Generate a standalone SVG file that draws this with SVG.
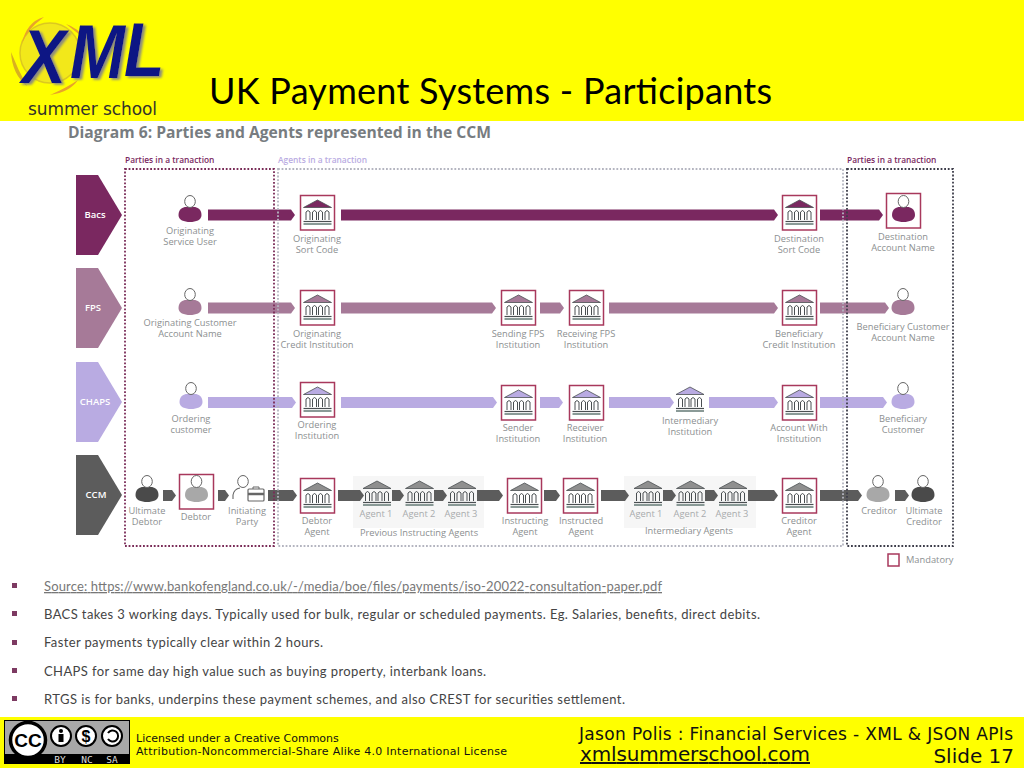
<svg xmlns="http://www.w3.org/2000/svg" width="1024" height="768" viewBox="0 0 1024 768">
<style>
text{font-family:"Open Sans","Liberation Sans",sans-serif}
.lbl{font-size:9.3px;fill:#8c8f91;text-anchor:middle;transform:translateY(-1px)}
.lbl2{font-size:9.3px;fill:#a8abad;text-anchor:middle;transform:translateY(-1px)}
.chev{font-size:9.5px;fill:#fff;font-weight:600;text-anchor:middle}
.sec{font-size:8.4px;font-weight:600}
.mand{fill:none;stroke:#a8385c;stroke-width:1.5}
.bacs{fill:#7a2860}.fps{fill:#a67a98}.chaps{fill:#b9abe2}.ccm{fill:#5c5c5c}
.body{font-family:Lato,"Liberation Sans",sans-serif;font-size:13px;fill:#444}
.foot{font-family:"DejaVu Sans",sans-serif;fill:#111}
.bul{fill:#7d3a62}
.ccl{font-family:"DejaVu Sans Mono",monospace;font-size:9.5px;fill:#ddd;text-anchor:middle}
.logoT{font-family:"Liberation Sans",sans-serif}
</style>
<defs>
<g id="bank">
<path d="M-14 -5.500 L0 -13 L14 -5.500 Z" stroke="#4a4f52" stroke-width=".8"/>
<path d="M-14 8.500 H14" stroke="#4a4f52" stroke-width="1.200" fill="none"/>
<path d="M-14 11 H14" stroke="#7d8f8c" stroke-width="1.800" fill="none"/>
<path d="M-11.500 7 V-1 Q-9.500 -4 -7.500 -1 V7 M-5 7 V-1 Q-3 -4 -1 -1 V7 M1 7 V-1 Q3 -4 5 -1 V7 M7.500 7 V-1 Q9.500 -4 11.500 -1 V7" stroke="#4a4f52" stroke-width="1" fill="none"/>
</g>
<g id="person">
<path d="M-11.500 0 C-11.500 -6 -7 -8 -4 -8 H4 C7 -8 11.500 -6 11.500 0 C11.500 5 6 7 0 7 C-6 7 -11.500 5 -11.500 0 Z"/>
<ellipse cx="0" cy="-13.500" rx="5.300" ry="6" fill="#fff" stroke="#666" stroke-width="1"/>
</g>
<filter id="logoShadow" x="-10%" y="-10%" width="125%" height="125%"><feDropShadow dx="2.500" dy="1.500" stdDeviation=".8" flood-color="#8a8a80"/></filter>
</defs>

<rect width="1024" height="768" fill="#fff"/>
<rect id="header" width="1024" height="121" fill="#ffff00"/>
<rect id="footer" y="717" width="1024" height="51" fill="#ffff00"/>

<g id="logo">
<circle cx="50" cy="53" r="30" fill="#f2e81a" stroke="#dcc820" stroke-width="1.500"/>
<path d="M44 17 Q26 22 22 44 Q26 30 44 17Z" fill="#e8a42a"/>
<path d="M66 24 Q78 28 84 38 Q76 32 66 24Z" fill="#e8a42a"/>
<path d="M11 52 Q12 74 27 86 Q18 70 11 52Z" fill="#d8b020"/>
<path d="M50 95 Q70 92 78 80 Q66 88 50 95Z" fill="#e8a42a"/>
<text class="logoT" transform="scale(1 1.150)" x="22 70 124" y="72 68 66" font-size="66" font-weight="700" font-style="italic" fill="#0e1684" filter="url(#logoShadow)">XML</text>
<text x="28" y="115" font-size="17" fill="#33332a" textLength="129" style="font-family:'DejaVu Sans',sans-serif">summer school</text>
</g>

<text id="title" x="209" y="104" font-size="36" fill="#000" textLength="563" style="font-family:Lato,'Liberation Sans',sans-serif">UK Payment Systems - Participants</text>
<text id="subtitle" x="68" y="138" font-size="15.500" font-weight="700" fill="#777c80" textLength="423" lengthAdjust="spacingAndGlyphs">Diagram 6: Parties and Agents represented in the CCM</text>

<text class="sec" x="125" y="163" fill="#7a2860">Parties in a tranaction</text>
<text class="sec" x="278" y="163" fill="#b9abe2">Agents in a tranaction</text>
<text class="sec" x="847" y="163" fill="#7a2860">Parties in a tranaction</text>

<rect x="353" y="476" width="131" height="52" fill="#f6f6f6"/>
<rect x="624" y="476" width="132" height="52" fill="#f6f6f6"/>

<g id="rows">
<g id="row-bacs"><path class="bacs" d="M76 175H98L122 215L98 255H76Z"/><text class="chev" x="95" y="218">Bacs</text></g>
<g id="row-fps"><path class="fps" d="M76 268H98L122 308L98 348H76Z"/><text class="chev" x="93" y="311">FPS</text></g>
<g id="row-chaps"><path class="chaps" d="M76 362H98L122 402L98 442H76Z"/><text class="chev" x="95" y="405">CHAPS</text></g>
<g id="row-ccm"><path class="ccm" d="M76 455H98L122 495L98 535H76Z"/><text class="chev" x="96" y="498">CCM</text></g>
</g>

<g id="connectors">
<g class="bacs">
<path d="M208 209.500H291L295 215L291 220.500H208Z"/>
<path d="M341 209.500H774L778 215L774 220.500H341Z"/>
<path d="M820 209.500H879L883 215L879 220.500H820Z"/>
</g>
<g class="fps">
<path d="M208 302.500H291L295 308L291 313.500H208Z"/>
<path d="M341 302.500H492L496 308L492 313.500H341Z"/>
<path d="M540 302.500H560L564 308L560 313.500H540Z"/>
<path d="M609 302.500H774L778 308L774 313.500H609Z"/>
<path d="M820 302.500H885L889 308L885 313.500H820Z"/>
</g>
<g class="chaps">
<path d="M208 397H292L296 402.500L292 408H208Z"/>
<path d="M341 397H493L497 402.500L493 408H341Z"/>
<path d="M540 397H559L563 402.500L559 408H540Z"/>
<path d="M609 397H670L674 402.500L670 408H609Z"/>
<path d="M709 397H774L778 402.500L774 408H709Z"/>
<path d="M820 397H883L887 402.500L883 408H820Z"/>
</g>
<g class="ccm">
<path d="M163 490H172L176 495.500L172 501H163Z"/>
<path d="M218 490H225L229 495.500L225 501H218Z"/>
<path d="M268 490H293L297 495.500L293 501H268Z"/>
<path d="M338 490H360L364 495.500L360 501H338Z"/>
<path d="M392 490H400L404 495.500L400 501H392Z"/>
<path d="M434 490H443L447 495.500L443 501H434Z"/>
<path d="M477 490H499L503 495.500L499 501H477Z"/>
<path d="M544 490H556L560 495.500L556 501H544Z"/>
<path d="M601 490H625L629 495.500L625 501H601Z"/>
<path d="M663 490H672L676 495.500L672 501H663Z"/>
<path d="M705 490H714L718 495.500L714 501H705Z"/>
<path d="M748 490H774L778 495.500L774 501H748Z"/>
<path d="M820 490H858L862 495.500L858 501H820Z"/>
<path d="M895 490H905L909 495.500L905 501H895Z"/>
</g>
</g>

<g id="frames" fill="none" stroke-width="1.800" stroke-dasharray="1.800 1.800">
<rect x="278" y="169" width="565" height="377" stroke="#b4b5c0"/>
<rect x="125" y="169" width="149" height="377" stroke="#7a2c58"/>
<rect x="847" y="169" width="106" height="377" stroke="#3d3d4a"/>
</g>

<g id="n-orig-service-user"><use href="#person" x="190" y="215" fill="#7a2860"/><text class="lbl" x="190" y="235">Originating</text><text class="lbl" x="190" y="246">Service User</text></g>
<g id="n-orig-sort"><rect class="mand" x="300.500" y="195.500" width="34" height="34.500"/><use href="#bank" x="317.500" y="213" fill="#7a2860"/><text class="lbl" x="317" y="243">Originating</text><text class="lbl" x="317" y="254">Sort Code</text></g>
<g id="n-dest-sort"><rect class="mand" x="782.500" y="195.500" width="34" height="34.500"/><use href="#bank" x="799.500" y="213" fill="#7a2860"/><text class="lbl" x="799" y="243">Destination</text><text class="lbl" x="799" y="254">Sort Code</text></g>
<g id="n-dest-account"><rect class="mand" x="886.500" y="193.500" width="34" height="34.500"/><use href="#person" x="903.500" y="215" fill="#7a2860"/><text class="lbl" x="903" y="241">Destination</text><text class="lbl" x="903" y="252">Account Name</text></g>

<g id="n-orig-customer"><use href="#person" x="190" y="308" fill="#a67a98"/><text class="lbl" x="190" y="327">Originating Customer</text><text class="lbl" x="190" y="338">Account Name</text></g>
<g id="n-orig-credit"><rect class="mand" x="300.500" y="290.500" width="34" height="34.500"/><use href="#bank" x="317.500" y="308" fill="#a67a98"/><text class="lbl" x="317" y="338">Originating</text><text class="lbl" x="317" y="349">Credit Institution</text></g>
<g id="n-sending-fps"><rect class="mand" x="501.500" y="290.500" width="34" height="34.500"/><use href="#bank" x="518.500" y="308" fill="#a67a98"/><text class="lbl" x="518" y="338">Sending FPS</text><text class="lbl" x="518" y="349">Institution</text></g>
<g id="n-receiving-fps"><rect class="mand" x="569.500" y="290.500" width="34" height="34.500"/><use href="#bank" x="586.500" y="308" fill="#a67a98"/><text class="lbl" x="586" y="338">Receiving FPS</text><text class="lbl" x="586" y="349">Institution</text></g>
<g id="n-benef-credit"><rect class="mand" x="782.500" y="290.500" width="34" height="34.500"/><use href="#bank" x="799.500" y="308" fill="#a67a98"/><text class="lbl" x="799" y="338">Beneficiary</text><text class="lbl" x="799" y="349">Credit Institution</text></g>
<g id="n-benef-customer-acc"><use href="#person" x="903" y="308" fill="#a67a98"/><text class="lbl" x="903" y="331">Beneficiary Customer</text><text class="lbl" x="903" y="342">Account Name</text></g>

<g id="n-ordering-customer"><use href="#person" x="191" y="402" fill="#b9abe2"/><text class="lbl" x="191" y="423">Ordering</text><text class="lbl" x="191" y="434">customer</text></g>
<g id="n-ordering-inst"><rect class="mand" x="300.500" y="382.500" width="34" height="34.500"/><use href="#bank" x="317.500" y="400" fill="#b9abe2"/><text class="lbl" x="317" y="429">Ordering</text><text class="lbl" x="317" y="440">Institution</text></g>
<g id="n-sender-inst"><rect class="mand" x="501.500" y="385.500" width="34" height="34.500"/><use href="#bank" x="518.500" y="403" fill="#b9abe2"/><text class="lbl" x="518" y="432">Sender</text><text class="lbl" x="518" y="443">Institution</text></g>
<g id="n-receiver-inst"><rect class="mand" x="569.500" y="385.500" width="34" height="34.500"/><use href="#bank" x="586.500" y="403" fill="#b9abe2"/><text class="lbl" x="585" y="432">Receiver</text><text class="lbl" x="585" y="443">Institution</text></g>
<g id="n-intermediary-inst"><use href="#bank" x="690" y="400" fill="#b9abe2"/><text class="lbl" x="690" y="425">Intermediary</text><text class="lbl" x="690" y="436">Institution</text></g>
<g id="n-account-with"><rect class="mand" x="782.500" y="385.500" width="34" height="34.500"/><use href="#bank" x="799.500" y="403" fill="#b9abe2"/><text class="lbl" x="799" y="432">Account With</text><text class="lbl" x="799" y="443">Institution</text></g>
<g id="n-benef-customer"><use href="#person" x="903" y="402" fill="#b9abe2"/><text class="lbl" x="903" y="423">Beneficiary</text><text class="lbl" x="903" y="434">Customer</text></g>

<g id="n-ultimate-debtor"><use href="#person" x="147" y="495" fill="#4a4a4a"/><text class="lbl" x="147" y="515">Ultimate</text><text class="lbl" x="147" y="526">Debtor</text></g>
<g id="n-debtor"><rect class="mand" x="179.500" y="474.500" width="34" height="34.500"/><use href="#person" x="196.500" y="495" fill="#a8a8a8"/><text class="lbl" x="196" y="521">Debtor</text></g>
<g id="n-initiating"><ellipse cx="243" cy="481.500" rx="5.300" ry="6" fill="#fff" stroke="#666"/><path d="M233 499V495Q234 489 240 488" fill="none" stroke="#666" stroke-width="1.100"/><rect x="248" y="489" width="16" height="12" rx="1" fill="#fff" stroke="#666" stroke-width="1.200"/><path d="M248 494H264" stroke="#666" stroke-width="2.500"/><path d="M253 489V487H259V489" fill="none" stroke="#666"/><text class="lbl" x="247" y="515">Initiating</text><text class="lbl" x="247" y="526">Party</text></g>
<g id="n-debtor-agent"><rect class="mand" x="300.500" y="478.500" width="34" height="34.500"/><use href="#bank" x="317.500" y="496" fill="#8f8f8f"/><text class="lbl" x="317" y="525">Debtor</text><text class="lbl" x="317" y="536">Agent</text></g>
<g id="n-prev-agents">
<use href="#bank" x="377" y="494" fill="#8f8f8f"/><use href="#bank" x="419.500" y="494" fill="#8f8f8f"/><use href="#bank" x="462" y="494" fill="#8f8f8f"/>
<text class="lbl2" x="376" y="518">Agent 1</text><text class="lbl2" x="419" y="518">Agent 2</text><text class="lbl2" x="461" y="518">Agent 3</text>
<text class="lbl" x="419" y="537">Previous Instructing Agents</text>
</g>
<g id="n-instructing"><rect class="mand" x="507.500" y="478.500" width="34" height="34.500"/><use href="#bank" x="524.500" y="496" fill="#8f8f8f"/><text class="lbl" x="525" y="525">Instructing</text><text class="lbl" x="525" y="536">Agent</text></g>
<g id="n-instructed"><rect class="mand" x="563.500" y="478.500" width="34" height="34.500"/><use href="#bank" x="580.500" y="496" fill="#8f8f8f"/><text class="lbl" x="581" y="525">Instructed</text><text class="lbl" x="581" y="536">Agent</text></g>
<g id="n-inter-agents">
<use href="#bank" x="648" y="494" fill="#8f8f8f"/><use href="#bank" x="690.500" y="494" fill="#8f8f8f"/><use href="#bank" x="733" y="494" fill="#8f8f8f"/>
<text class="lbl2" x="646" y="518">Agent 1</text><text class="lbl2" x="690" y="518">Agent 2</text><text class="lbl2" x="732" y="518">Agent 3</text>
<text class="lbl" x="689" y="535">Intermediary Agents</text>
</g>
<g id="n-creditor-agent"><rect class="mand" x="782.500" y="478.500" width="34" height="34.500"/><use href="#bank" x="799.500" y="496" fill="#8f8f8f"/><text class="lbl" x="799" y="525">Creditor</text><text class="lbl" x="799" y="536">Agent</text></g>
<g id="n-creditor"><use href="#person" x="878" y="495" fill="#a8a8a8"/><text class="lbl" x="879" y="515">Creditor</text></g>
<g id="n-ultimate-creditor"><use href="#person" x="923" y="495" fill="#4a4a4a"/><text class="lbl" x="924" y="515">Ultimate</text><text class="lbl" x="924" y="526">Creditor</text></g>

<g id="legend"><rect class="mand" x="888" y="554" width="11" height="12"/><text class="lbl" x="906" y="564" style="text-anchor:start">Mandatory</text></g>

<g id="bullets">
<rect class="bul" x="12" y="583" width="5" height="5"/><text class="body" x="44" y="591" style="fill:#777" text-decoration="underline" textLength="618">Source: https://www.bankofengland.co.uk/-/media/boe/files/payments/iso-20022-consultation-paper.pdf</text>
<rect class="bul" x="12" y="611" width="5" height="5"/><text class="body" x="44" y="619" textLength="716">BACS takes 3 working days. Typically used for bulk, regular or scheduled payments. Eg. Salaries, benefits, direct debits.</text>
<rect class="bul" x="12" y="640" width="5" height="5"/><text class="body" x="44" y="647" textLength="279">Faster payments typically clear within 2 hours.</text>
<rect class="bul" x="12" y="668" width="5" height="5"/><text class="body" x="44" y="676" textLength="442">CHAPS for same day high value such as buying property, interbank loans.</text>
<rect class="bul" x="12" y="696" width="5" height="5"/><text class="body" x="44" y="704" textLength="581">RTGS is for banks, underpins these payment schemes, and also CREST for securities settlement.</text>
</g>

<g id="cc-badge">
<rect x="4.500" y="720.500" width="125" height="43" fill="#a8a8a8" stroke="#000"/>
<rect x="4.500" y="754" width="125" height="10" fill="#000"/>
<circle cx="28" cy="740" r="17.500" fill="#fff" stroke="#000" stroke-width="3.500"/>
<text class="logoT" x="28" y="746.500" font-size="19" font-weight="700" fill="#000" text-anchor="middle">CC</text>
<circle cx="61" cy="736" r="10" fill="#fff" stroke="#000" stroke-width="2"/>
<circle cx="61" cy="731" r="2" fill="#000"/><rect x="58.500" y="734" width="5" height="8" fill="#000"/>
<circle cx="86" cy="736" r="10" fill="#fff" stroke="#000" stroke-width="2"/>
<text class="logoT" x="86" y="742" font-size="16" font-weight="700" fill="#000" text-anchor="middle">$</text>
<circle cx="112" cy="736" r="10" fill="#fff" stroke="#000" stroke-width="2"/>
<path d="M108 733A5.500 5.500 0 1 1 108 739" fill="none" stroke="#000" stroke-width="2"/>
<text class="ccl" x="60" y="762.500">BY</text>
<text class="ccl" x="87" y="762.500">NC</text>
<text class="ccl" x="112" y="762.500">SA</text>
</g>

<g id="footer-text">
<text class="foot" x="136" y="742" font-size="11">Licensed under a Creative Commons</text>
<text class="foot" x="136" y="755" font-size="11" textLength="371">Attribution-Noncommercial-Share Alike 4.0 International License</text>
<text class="foot" x="579" y="740" font-size="17" textLength="434">Jason Polis : Financial Services - XML &amp; JSON APIs</text>
<text class="foot" x="580" y="761" font-size="20" text-decoration="underline" textLength="230">xmlsummerschool.com</text>
<text class="foot" x="1014" y="763" font-size="20" text-anchor="end">Slide 17</text>
</g>
</svg>
